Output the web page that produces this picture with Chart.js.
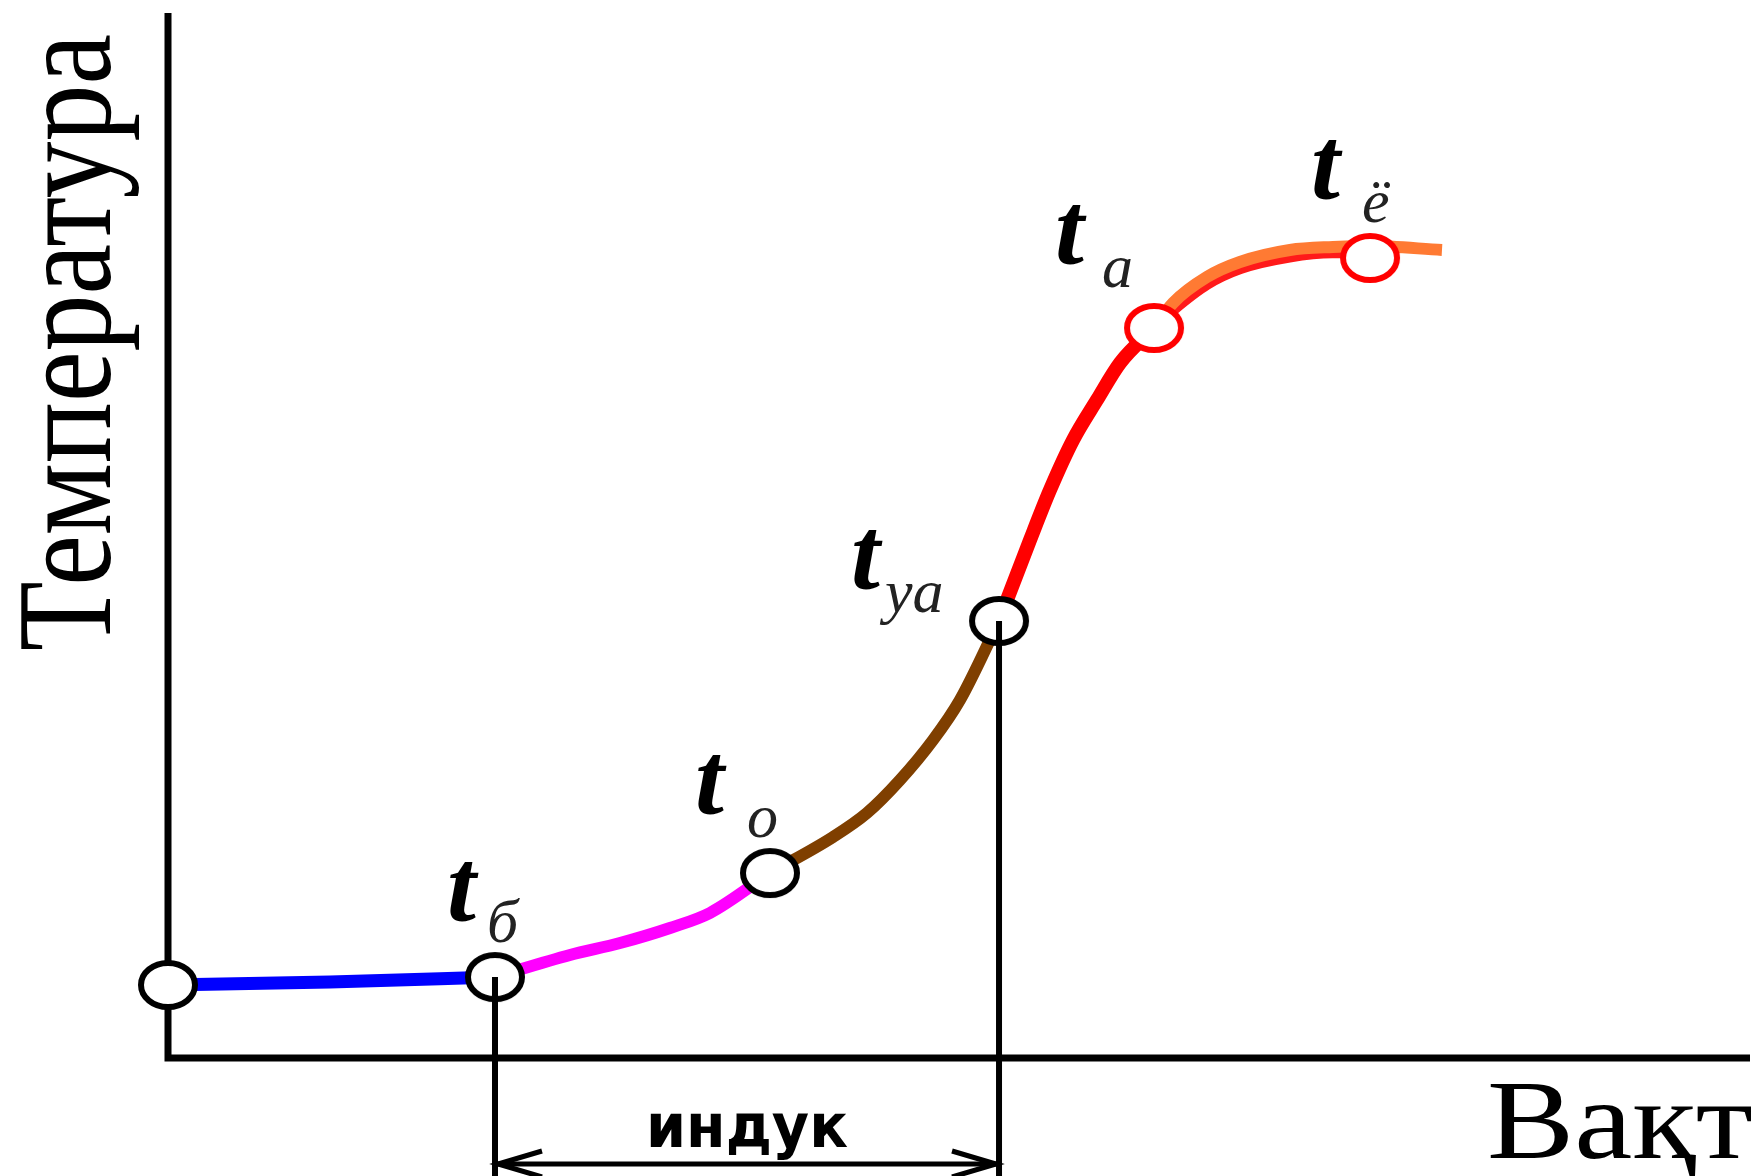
<!DOCTYPE html>
<html>
<head>
<meta charset="utf-8">
<title>Температура – вақт</title>
<script src="https://cdn.jsdelivr.net/npm/chart.js@4"></script>
<style>
  html, body { margin: 0; padding: 0; background: #fff; }
  canvas { display: block; }
</style>
</head>
<body>
<canvas id="chart" width="1760" height="1176"></canvas>
<script>
// curve pieces, [x, y] in axis units (0..100)
const blueLine = [[0, 6.99], [10.24, 7.27], [20.67, 7.75]];
const magentaLine = [[20.67, 7.75], [25.41, 9.86], [28.57, 11.0], [31.73, 12.44], [34.26, 13.88], [38.05, 17.7]];
const brownLine = [[38.05, 17.7], [42.04, 21.15], [44.18, 23.44], [46.27, 26.6], [48.36, 30.43], [50.06, 34.26], [52.53, 41.82]];
const redLine = [[52.53, 41.82], [54.49, 49.57], [55.75, 54.35], [57.21, 59.14], [58.72, 62.97], [60.18, 66.51], [62.33, 69.86]];
const redUnder = [[62.33, 69.86], [63.6, 71.6], [65.7, 74.0], [67.8, 75.5], [70.9, 76.6], [73.6, 77.0], [75.9, 77.0]];
const orangeLine = [[62.33, 69.86], [63.53, 72.25], [65.68, 74.74], [67.76, 76.17], [70.92, 77.32], [73.64, 77.61], [75.98, 77.7], [80.53, 77.32]];

// marked points
const pointX = [0, 20.67, 38.05, 52.53, 62.33, 75.98];
const pointY = [6.99, 7.75, 17.7, 41.82, 69.86, 76.56];
const pointSub = ["", "б", "о", "уа", "а", "ё"];

const yTitle = "Температура";
const xTitle = "Вақт";
const spanTitle = "индук";

// label offsets from the marker, px: t dx, t dy, sub dx, sub dy
const labelOffsets = [null, [-48, -57, -8, -35], [-75, -60, -23, -36], [-148, -33, -114, -9], [-99, -65, -52, -41], [-59, -60, -8, -36]];

const toXY = arr => arr.map(p => ({ x: p[0], y: p[1] }));

function ring(color) {
  const c = document.createElement("canvas");
  c.width = 68;
  c.height = 58;
  const g = c.getContext("2d");
  g.beginPath();
  g.ellipse(34, 29, 27, 22, 0, 0, Math.PI * 2);
  g.fillStyle = "#fff";
  g.fill();
  g.lineWidth = 6;
  g.strokeStyle = color;
  g.stroke();
  return c;
}
const blackRing = ring("#000");
const redRing = ring("#ff0000");

function fitText(ctx, text, x, y, width, rot) {
  ctx.save();
  ctx.translate(x, y);
  if (rot) ctx.rotate(rot);
  const w = ctx.measureText(text).width;
  ctx.scale(width / w, 1);
  ctx.fillText(text, 0, 0);
  ctx.restore();
}

function arrowHead(ctx, x, y, dir) {
  ctx.beginPath();
  ctx.moveTo(x + dir * 44, y - 13);
  ctx.lineTo(x, y);
  ctx.lineTo(x + dir * 44, y + 13);
  ctx.stroke();
}

const decor = {
  id: "decor",
  beforeDatasetsDraw(chart) {
    const { ctx, chartArea: a } = chart;
    ctx.save();
    ctx.strokeStyle = "#000";
    ctx.lineWidth = 7;
    ctx.beginPath();
    ctx.moveTo(a.left, a.top);
    ctx.lineTo(a.left, a.bottom);
    ctx.lineTo(a.right, a.bottom);
    ctx.stroke();

    ctx.fillStyle = "#000";
    ctx.textAlign = "left";
    ctx.textBaseline = "alphabetic";
    ctx.font = "136px 'Liberation Serif'";
    fitText(ctx, yTitle, a.left - 58, a.bottom - 407, 617, -Math.PI / 2);
    ctx.font = "113px 'Liberation Serif'";
    fitText(ctx, xTitle, a.right - 263, a.bottom + 100, 266);
    ctx.restore();
  },
  afterDatasetsDraw(chart) {
    const { ctx, chartArea: a, scales } = chart;
    const xs = scales.x, ys = scales.y;
    ctx.save();
    ctx.strokeStyle = "#000";
    ctx.fillStyle = "#000";

    // drop lines from t_б and t_уа
    const x1 = xs.getPixelForValue(pointX[1]);
    const x2 = xs.getPixelForValue(pointX[3]);
    ctx.lineWidth = 6;
    ctx.beginPath();
    ctx.moveTo(x1, ys.getPixelForValue(pointY[1]));
    ctx.lineTo(x1, chart.height);
    ctx.moveTo(x2, ys.getPixelForValue(pointY[3]));
    ctx.lineTo(x2, chart.height);
    ctx.stroke();

    // double arrow
    const ay = a.bottom + 106;
    ctx.lineWidth = 5;
    ctx.beginPath();
    ctx.moveTo(x1, ay);
    ctx.lineTo(x2, ay);
    ctx.stroke();
    arrowHead(ctx, x1 + 3, ay, 1);
    arrowHead(ctx, x2 - 3, ay, -1);

    ctx.textAlign = "left";
    ctx.font = "bold 60px 'DejaVu Sans'";
    fitText(ctx, spanTitle, (x1 + x2) / 2 - 101, a.bottom + 89, 202);

    // t labels
    for (let i = 1; i < pointX.length; i++) {
      const px = xs.getPixelForValue(pointX[i]);
      const py = ys.getPixelForValue(pointY[i]);
      const o = labelOffsets[i];
      ctx.font = "bold italic 104px 'Liberation Serif'";
      ctx.fillStyle = "#000";
      ctx.fillText("t", px + o[0], py + o[1]);
      ctx.font = "italic 62px 'Liberation Serif'";
      ctx.fillStyle = "#222";
      ctx.fillText(pointSub[i], px + o[2], py + o[3]);
    }
    ctx.restore();
  }
};

function lineSet(points, color, width, order) {
  return {
    data: toXY(points),
    borderColor: color,
    borderWidth: width,
    pointRadius: 0,
    cubicInterpolationMode: "monotone",
    borderCapStyle: "butt",
    fill: false,
    clip: false,
    order: order
  };
}

new Chart(document.getElementById("chart"), {
  type: "line",
  data: {
    datasets: [
      lineSet(blueLine, "#0000ff", 13, 2),
      lineSet(magentaLine, "#ff00ff", 12, 2),
      lineSet(brownLine, "#7f3f00", 12, 2),
      lineSet(redLine, "#ff0000", 14, 2),
      lineSet(redUnder, "#ff1a1a", 10, 3),
      lineSet(orangeLine, "#ff7a33", 12, 2),
      {
        data: pointX.map((x, i) => ({ x: x, y: pointY[i] })),
        showLine: false,
        pointStyle: [blackRing, blackRing, blackRing, blackRing, redRing, redRing],
        pointRadius: 27,
        clip: false,
        order: 0
      }
    ]
  },
  options: {
    responsive: false,
    animation: false,
    devicePixelRatio: 1,
    layout: { autoPadding: false, padding: { left: 168, right: 10, top: 13, bottom: 118 } },
    plugins: { legend: { display: false }, tooltip: { enabled: false } },
    scales: {
      x: { type: "linear", min: 0, max: 100, display: false },
      y: { type: "linear", min: 0, max: 100, display: false }
    }
  },
  plugins: [decor]
});
</script>
</body>
</html>
